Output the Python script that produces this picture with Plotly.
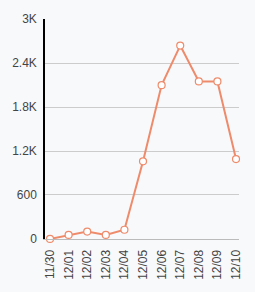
import plotly.graph_objects as go

dates = ["11/30", "12/01", "12/02", "12/03", "12/04", "12/05", "12/06", "12/07", "12/08", "12/09", "12/10"]
values = [0, 55, 100, 55, 125, 1060, 2100, 2640, 2150, 2150, 1090]
y_ticks = [0, 600, 1200, 1800, 2400, 3000]
y_tick_text = ["0", "600", "1.2K", "1.8K", "2.4K", "3K"]

idx = list(range(len(dates)))
line_color = "#ee8b6b"
bg = "#f8f9fb"

fig = go.Figure(go.Scatter(
    x=idx, y=values, mode="lines+markers",
    line=dict(color=line_color, width=2),
    marker=dict(size=7, color="white", line=dict(color=line_color, width=1.2)),
    hoverinfo="skip", cliponaxis=False,
))

fig.update_layout(
    width=255, height=292,
    margin=dict(l=43, r=16, t=15, b=51),
    paper_bgcolor=bg, plot_bgcolor=bg,
    showlegend=False,
    font=dict(family="Liberation Sans, Arial, sans-serif", size=12, color="#444"),
)
fig.update_xaxes(
    range=[-0.27, 10.16], tickmode="array", tickvals=idx, ticktext=dates,
    tickangle=-90, showgrid=False, zeroline=False,
    showline=True, linecolor="#bbbbbb", linewidth=1,
    ticks="", ticklabelstandoff=5,
)
fig.update_yaxes(
    range=[-1, 3003], tickmode="array", tickvals=y_ticks, ticktext=y_tick_text,
    showgrid=True, gridcolor="#cccccc", gridwidth=1, zeroline=False,
    showline=True, linecolor="black", linewidth=1.5, ticks="", ticklabelstandoff=4,
)

fig.write_html("out.html")
